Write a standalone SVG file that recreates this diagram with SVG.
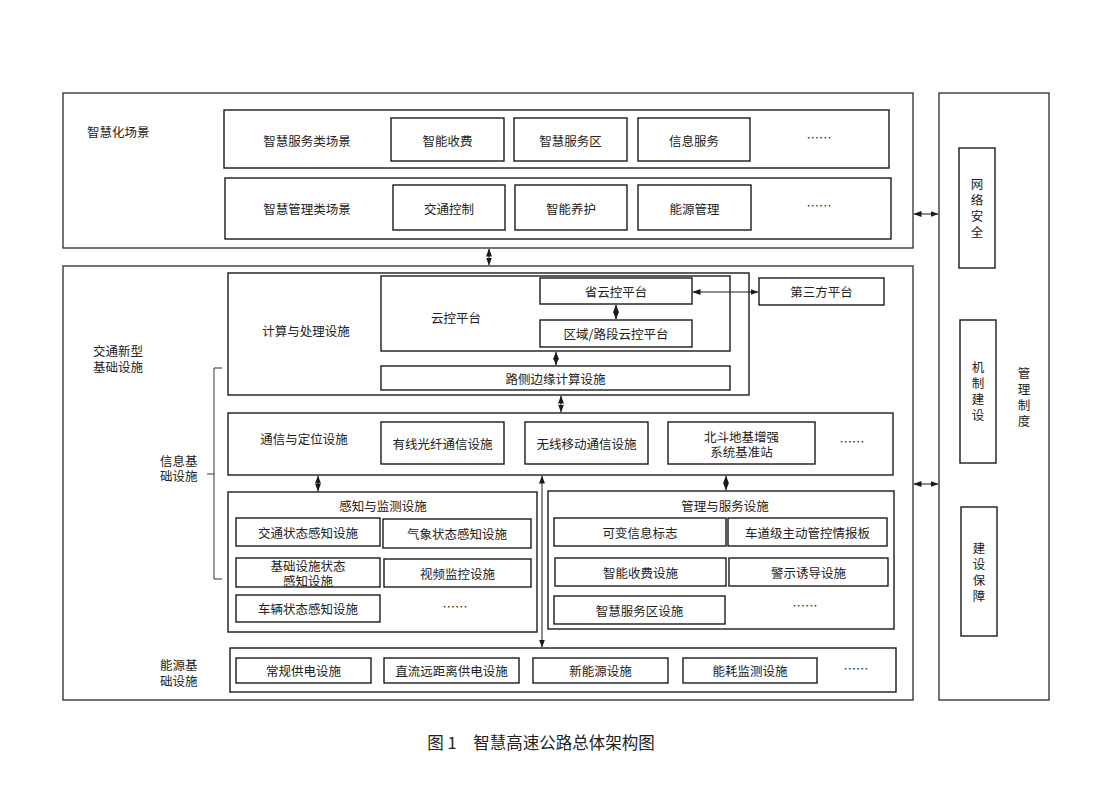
<svg xmlns="http://www.w3.org/2000/svg" width="1102" height="812" viewBox="0 0 1102 812">
<style>
.b{fill:#fff;stroke:#1a1a1a;stroke-width:1.4}
.o{fill:#fff;stroke:#2a2a2a;stroke-width:1.3}
.t{font-family:"Noto Sans CJK SC","Noto Sans",sans-serif;font-size:12.5px;fill:#222;text-anchor:middle;dominant-baseline:central}
.l{text-anchor:start}
.v{writing-mode:vertical-rl;letter-spacing:3.5px}
.c{stroke:#1a1a1a;stroke-width:1;fill:none;marker-start:url(#a);marker-end:url(#a)}
</style>
<defs>
<marker id="a" viewBox="0 0 8 8" refX="7.5" refY="4" markerWidth="8" markerHeight="8" markerUnits="userSpaceOnUse" orient="auto-start-reverse">
<path d="M0,1 L8,4 L0,7 Z" fill="#1a1a1a"/>
</marker>
</defs>
<rect width="1102" height="812" fill="#fff"/>

<g id="scenes">
<rect class="o" x="63" y="93" width="850" height="155"/>
<text class="t l" x="87" y="131">智慧化场景</text>
</g>
<g id="service-scenes">
<rect class="b" x="224" y="110" width="665" height="58"/>
<text class="t" x="307" y="140">智慧服务类场景</text>
<rect class="b" x="391" y="118" width="113" height="43"/><text class="t" x="447.5" y="140">智能收费</text>
<rect class="b" x="514" y="118" width="113" height="43"/><text class="t" x="570.5" y="140">智慧服务区</text>
<rect class="b" x="638" y="118" width="112" height="43"/><text class="t" x="694" y="140">信息服务</text>
<text class="t" x="819" y="137">……</text>
</g>
<g id="mgmt-scenes">
<rect class="b" x="225" y="178" width="666" height="61"/>
<text class="t" x="307" y="208">智慧管理类场景</text>
<rect class="b" x="393" y="185" width="112" height="45"/><text class="t" x="449" y="208">交通控制</text>
<rect class="b" x="515" y="185" width="112" height="45"/><text class="t" x="571" y="208">智能养护</text>
<rect class="b" x="638" y="185" width="113" height="45"/><text class="t" x="694.5" y="208">能源管理</text>
<text class="t" x="819" y="205">……</text>
</g>

<g id="management">
<rect class="o" x="939" y="93" width="110" height="607"/>
<text class="t v" x="1024" y="399">管理制度</text>
</g>
<g id="network-security">
<rect class="b" x="959" y="148" width="36" height="120"/>
<text class="t v" x="977" y="210">网络安全</text>
</g>
<g id="mechanism">
<rect class="b" x="960" y="320" width="36" height="143"/>
<text class="t v" x="978" y="393">机制建设</text>
</g>
<g id="construction">
<rect class="b" x="961" y="507" width="36" height="129"/>
<text class="t v" x="979" y="574">建设保障</text>
</g>

<g id="infrastructure">
<rect class="o" x="63" y="266" width="850" height="434"/>
<text class="t l"><tspan x="93" y="350">交通新型</tspan><tspan x="93" y="366">基础设施</tspan></text>
<text class="t l"><tspan x="160" y="460">信息基</tspan><tspan x="160" y="475">础设施</tspan></text>
<path d="M222,368 H214 V579 H222 M214,474 H207" stroke="#333" stroke-width="1" fill="none"/>
<text class="t l"><tspan x="160" y="664">能源基</tspan><tspan x="160" y="680">础设施</tspan></text>
</g>

<g id="compute">
<rect class="b" x="228" y="273" width="521" height="122"/>
<text class="t" x="306" y="330">计算与处理设施</text>
</g>
<g id="cloud">
<rect class="b" x="381" y="276" width="349" height="75"/>
<text class="t" x="456" y="317">云控平台</text>
</g>
<g id="province-cloud">
<rect class="b" x="540" y="278" width="152" height="26"/>
<text class="t" x="616" y="291">省云控平台</text>
</g>
<g id="region-cloud">
<rect class="b" x="540" y="320" width="152" height="27"/>
<text class="t" x="616" y="333.5">区域/路段云控平台</text>
</g>
<g id="edge">
<rect class="b" x="381" y="366" width="349" height="24"/>
<text class="t" x="555.5" y="378">路侧边缘计算设施</text>
</g>
<g id="third-party">
<rect class="b" x="759" y="278" width="125" height="27"/>
<text class="t" x="821.5" y="291.5">第三方平台</text>
</g>

<g id="comm">
<rect class="b" x="228" y="413" width="665" height="62"/>
<text class="t" x="304" y="438">通信与定位设施</text>
<rect class="b" x="381" y="422" width="123" height="42"/><text class="t" x="442.5" y="443">有线光纤通信设施</text>
<rect class="b" x="525" y="422" width="123" height="42"/><text class="t" x="586.5" y="443">无线移动通信设施</text>
<rect class="b" x="668" y="422" width="147" height="42"/><text class="t"><tspan x="741.5" y="436">北斗地基增强</tspan><tspan x="741.5" y="451">系统基准站</tspan></text>
<text class="t" x="852" y="441">……</text>
</g>

<g id="sensing">
<rect class="b" x="228" y="492" width="309" height="140"/>
<text class="t" x="383" y="505">感知与监测设施</text>
<rect class="b" x="236" y="518" width="144" height="28"/><text class="t" x="308" y="532">交通状态感知设施</text>
<rect class="b" x="383" y="519" width="148" height="29"/><text class="t" x="457" y="533.5">气象状态感知设施</text>
<rect class="b" x="236" y="558" width="144" height="29"/><text class="t"><tspan x="308" y="565">基础设施状态</tspan><tspan x="308" y="580">感知设施</tspan></text>
<rect class="b" x="384" y="559" width="147" height="28"/><text class="t" x="457.5" y="573">视频监控设施</text>
<rect class="b" x="236" y="595" width="144" height="27"/><text class="t" x="308" y="608.5">车辆状态感知设施</text>
<text class="t" x="455" y="606">……</text>
</g>

<g id="service">
<rect class="b" x="548" y="491" width="346" height="138"/>
<text class="t" x="725" y="505">管理与服务设施</text>
<rect class="b" x="554" y="518" width="172" height="28"/><text class="t" x="640" y="532">可变信息标志</text>
<rect class="b" x="728" y="518" width="159" height="28"/><text class="t" x="807.5" y="532">车道级主动管控情报板</text>
<rect class="b" x="555" y="558" width="171" height="28"/><text class="t" x="640.5" y="572">智能收费设施</text>
<rect class="b" x="729" y="558" width="159" height="28"/><text class="t" x="808.5" y="572">警示诱导设施</text>
<rect class="b" x="554" y="596" width="171" height="28"/><text class="t" x="639.5" y="610">智慧服务区设施</text>
<text class="t" x="805" y="605">……</text>
</g>

<g id="energy">
<rect class="b" x="230" y="648" width="666" height="44"/>
<rect class="b" x="236" y="658" width="135" height="25"/><text class="t" x="303.5" y="670.5">常规供电设施</text>
<rect class="b" x="384" y="658" width="135" height="25"/><text class="t" x="451.5" y="670.5">直流远距离供电设施</text>
<rect class="b" x="533" y="658" width="135" height="25"/><text class="t" x="600.5" y="670.5">新能源设施</text>
<rect class="b" x="683" y="658" width="134" height="25"/><text class="t" x="750" y="670.5">能耗监测设施</text>
<text class="t" x="856" y="668">……</text>
</g>

<g id="connectors">
<line class="c" x1="489" y1="249" x2="489" y2="265"/>
<line class="c" x1="914" y1="214" x2="938" y2="214"/>
<line class="c" x1="914" y1="484" x2="938" y2="484"/>
<line class="c" x1="616" y1="305" x2="616" y2="319"/>
<line class="c" x1="693" y1="292" x2="758" y2="292"/>
<line class="c" x1="556" y1="352" x2="556" y2="365"/>
<line class="c" x1="561" y1="396" x2="561" y2="412"/>
<line class="c" x1="318" y1="476" x2="318" y2="491"/>
<line class="c" x1="542" y1="476" x2="542" y2="647"/>
<line class="c" x1="726" y1="476" x2="726" y2="490"/>
</g>

<text class="t" x="541" y="742" style="font-size:16.5px">图 1　智慧高速公路总体架构图</text>
</svg>
